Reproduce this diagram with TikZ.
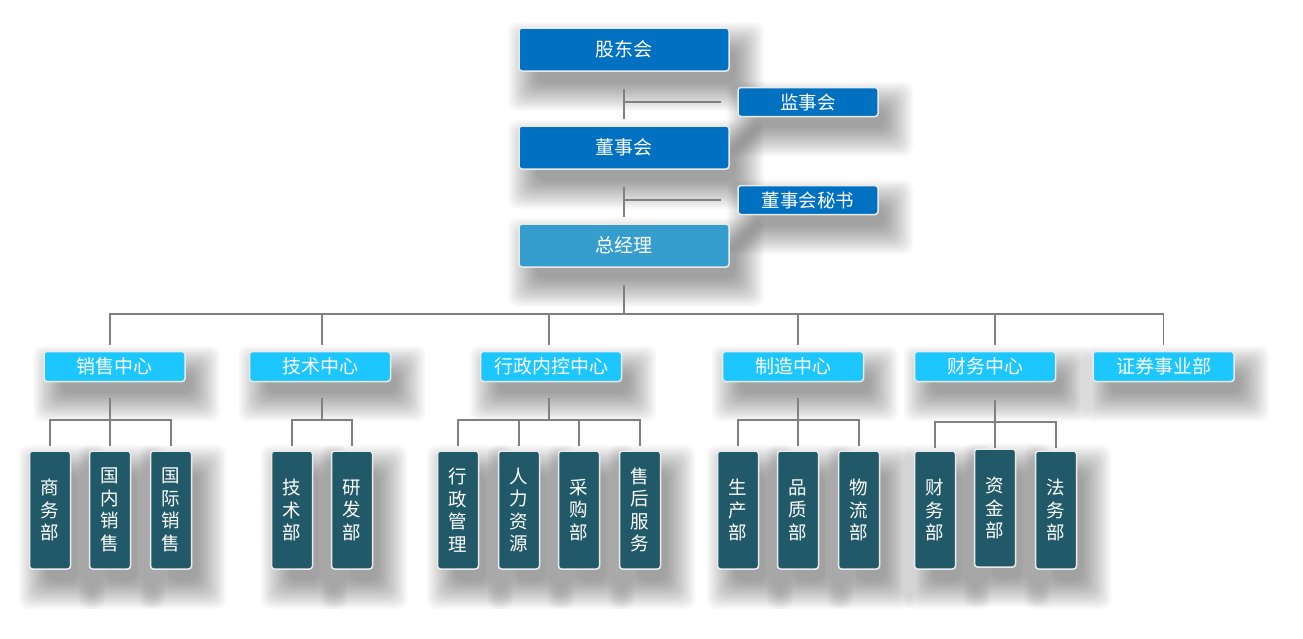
\documentclass[tikz,border=0pt]{standalone}
\usepackage{fontspec}
\setmainfont{Noto Sans CJK SC}
\definecolor{topblue}{RGB}{0,112,192}
\definecolor{gmblue}{RGB}{54,158,206}
\definecolor{centercyan}{RGB}{28,198,255}
\definecolor{deptteal}{RGB}{34,89,104}
\definecolor{linegray}{RGB}{128,128,128}
\definecolor{rimgray}{RGB}{234,234,234}
\pgfdeclarelayer{paper}
\pgfdeclarelayer{background}
\pgfsetlayers{paper,background,main}

\tikzset{
	box/.style={draw=rimgray, line width=1.5pt, rounded corners=3pt, text=white, inner sep=0pt},
	board/.style={box, fill=topblue, minimum width=210pt, minimum height=43pt, font=\fontsize{19}{20}\selectfont},
	sidebox/.style={box, fill=topblue, minimum width=140pt, minimum height=29pt, font=\fontsize{18.5}{20}\selectfont},
	centerbox/.style={box, fill=centercyan, minimum width=141pt, minimum height=30pt, font=\fontsize{19}{20}\selectfont},
	deptbox/.style={box, fill=deptteal, minimum width=41pt, minimum height=118pt, align=center, font=\fontsize{18.5}{22.5}\selectfont},
	link/.style={draw=linegray, line width=1.6pt},
	haze/.style={fill=black, opacity=0.026, rounded corners=9pt}
}

\begin{document}
\begin{tikzpicture}[x=1pt,y=1pt]
	\begin{pgfonlayer}{paper}
		\fill[white] (0,0) rectangle (1303,-638);
	\end{pgfonlayer}
	\useasboundingbox (0,0) rectangle (1303,-638);
	% top of the company
	\node[board] (gdh) at (624,-49.5) {股东会};
	\node[board] (dsh) at (624,-147.5) {董事会};
	\node[board, fill=gmblue] (zjl) at (624,-245.5) {总经理};
	\node[sidebox] (jsh) at (808,-102) {监事会};
	\node[sidebox] (dsms) at (808,-200) {董事会秘书};
	% centres
	\node[centerbox] (xszx) at (114.5,-366.5) {销售中心};
	\node[centerbox] (jszx) at (320,-366.5) {技术中心};
	\node[centerbox] (xzzx) at (551,-366.5) {行政内控中心};
	\node[centerbox] (zzzx) at (793,-366.5) {制造中心};
	\node[centerbox] (cwzx) at (985,-366.5) {财务中心};
	\node[centerbox] (zqb) at (1163.5,-366.5) {证券事业部};
	% departments
	\node[deptbox] (swb) at (50,-510) {商\\务\\部};
	\node[deptbox] (gnxs) at (110,-510) {国\\内\\销\\售};
	\node[deptbox] (gjxs) at (171,-510) {国\\际\\销\\售};
	\node[deptbox] (jsb) at (292,-510) {技\\术\\部};
	\node[deptbox] (yfb) at (352,-510) {研\\发\\部};
	\node[deptbox] (xzgl) at (458,-510) {行\\政\\管\\理};
	\node[deptbox] (rlzy) at (519,-510) {人\\力\\资\\源};
	\node[deptbox] (cgb) at (579,-510) {采\\购\\部};
	\node[deptbox] (shfw) at (640,-510) {售\\后\\服\\务};
	\node[deptbox] (scb) at (738,-510) {生\\产\\部};
	\node[deptbox] (pzb) at (798,-510) {品\\质\\部};
	\node[deptbox] (wlb) at (859,-510) {物\\流\\部};
	\node[deptbox] (cwb) at (935,-510) {财\\务\\部};
	\node[deptbox] (zjb) at (995,-508) {资\\金\\部};
	\node[deptbox] (fwb) at (1056,-510) {法\\务\\部};
	% soft shadows
	\begin{pgfonlayer}{background}
		\foreach \n in {gdh,dsh,zjl,jsh,dsms,xszx,jszx,xzzx,zzzx,cwzx,zqb,
			swb,gnxs,gjxs,jsb,yfb,xzgl,rlzy,cgb,shfw,scb,pzb,wlb,cwb,zjb,fwb} {
			\foreach \k in {0,...,14} {
				\pgfmathsetmacro{\lx}{12-(2*\k-6)}
				\pgfmathsetmacro{\rx}{12+(2*\k-6)}
				\pgfmathsetmacro{\ly}{-17-(2*\k-6)}
				\pgfmathsetmacro{\uy}{-17+(2*\k-6)}
				\fill[haze] ([xshift=\lx pt, yshift=\ly pt]\n.south west) rectangle ([xshift=\rx pt, yshift=\uy pt]\n.north east);
			}
		}
	\end{pgfonlayer}
	% levels of the lines
	\coordinate (bus) at (0,-314);
	\coordinate (drop) at (0,-345);
	\coordinate (low) at (0,-398);
	\coordinate (bus3) at (0,-420);
	\coordinate (top3) at (0,-446);
	% upper lines
	\draw[link] ([yshift=-17pt]gdh.south) -- ([yshift=6pt]dsh.north);
	\draw[link] (gdh.south |- jsh.west) -- ([xshift=-16pt]jsh.west);
	\draw[link] ([yshift=-17pt]dsh.south) -- ([yshift=6pt]zjl.north);
	\draw[link] (dsh.south |- dsms.west) -- ([xshift=-16pt]dsms.west);
	\draw[link] ([yshift=-17pt]zjl.south) -- (zjl |- bus);
	\draw[link] (gnxs |- drop) -- (gnxs |- bus) -- (zqb |- bus) -- (zqb |- drop);
	\draw[link] ([xshift=30pt]jsb |- bus) -- ([xshift=30pt]jsb |- drop);
	\draw[link] ([xshift=30pt]rlzy |- bus) -- ([xshift=30pt]rlzy |- drop);
	\draw[link] (pzb |- bus) -- (pzb |- drop);
	\draw[link] (zjb |- bus) -- (zjb |- drop);
	% sales
	\draw[link] (gnxs |- low) -- (gnxs |- top3);
	\draw[link] (swb |- top3) |- (gjxs |- bus3) -- (gjxs |- top3);
	% technics
	\draw[link] ([xshift=30pt]jsb |- low) -- ([xshift=30pt]jsb |- bus3);
	\draw[link] (jsb |- top3) |- (yfb |- bus3) -- (yfb |- top3);
	% administration
	\draw[link] ([xshift=30pt]rlzy |- low) -- ([xshift=30pt]rlzy |- bus3);
	\draw[link] (xzgl |- top3) |- (shfw |- bus3) -- (shfw |- top3);
	\draw[link] (rlzy |- bus3) -- (rlzy |- top3);
	\draw[link] (cgb |- bus3) -- (cgb |- top3);
	% manufacturing
	\draw[link] (pzb |- low) -- (pzb |- top3);
	\draw[link] (scb |- top3) |- (wlb |- bus3) -- (wlb |- top3);
	% finance
	\draw[link] ([yshift=-2pt]zjb |- low) -- ([yshift=-2pt]zjb |- top3);
	\draw[link] ([yshift=-2pt]cwb |- top3) |- ([yshift=-2pt]fwb |- bus3) -- ([yshift=-2pt]fwb |- top3);
\end{tikzpicture}
\end{document}
